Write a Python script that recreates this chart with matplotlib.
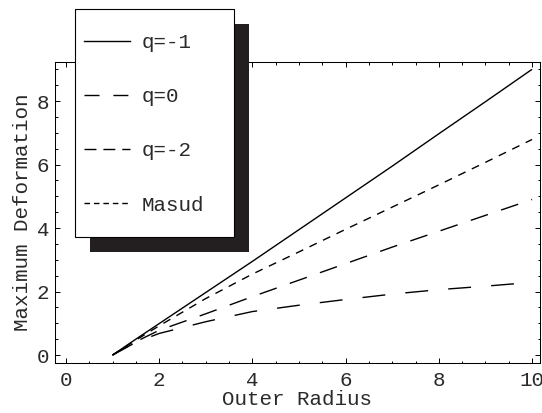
import numpy as np
import matplotlib
matplotlib.use('Agg')
import matplotlib.pyplot as plt
from matplotlib.lines import Line2D
from matplotlib.patches import Rectangle
from matplotlib.ticker import MultipleLocator

# ================
# Data
# ================

radius = [1, 1.5, 2, 3, 4, 5, 6, 7, 8, 9, 10]
deform_q_m1 = [0, 0.5, 0.99, 1.97, 2.95, 3.95, 4.95, 5.95, 6.97, 7.98, 9.0]
deform_masud = [0, 0.47, 0.92, 1.78, 2.55, 3.25, 3.96, 4.66, 5.36, 6.07, 6.79]
deform_q_m2 = [0, 0.42, 0.78, 1.3, 1.84, 2.36, 2.88, 3.4, 3.9, 4.4, 4.9]
deform_q_0 = [0, 0.4, 0.68, 1.05, 1.37, 1.57, 1.75, 1.92, 2.06, 2.17, 2.29]

labels = ['q=-1', 'q=0', 'q=-2', 'Masud']
xticks = [0, 2, 4, 6, 8, 10]
yticks = [0, 2, 4, 6, 8]

# ================
# Style
# ================

W, H = 542, 413
font = 'Liberation Mono'
fs = 15
txt = '#2a2a2a'

plt.rcParams['font.family'] = font
plt.rcParams['font.size'] = fs

fig = plt.figure(figsize=(W / 100, H / 100), dpi=100)
ax = fig.add_axes([54.7 / W, (H - 363) / H, (540 - 54.7) / W, (363 - 62) / H])

ax.plot(radius, deform_q_m1, color='k', lw=1.0, solid_capstyle='butt')
ax.plot(radius, deform_masud, color='k', lw=1.0, dashes=(5.8, 5.0))
ax.plot(radius, deform_q_m2, color='k', lw=1.0, dashes=(13, 10))
ax.plot(radius, deform_q_0, color='k', lw=1.0, dashes=(16.5, 14.5))

ax.set_xlim(-0.24, 10.17)
ax.set_ylim(-0.25, 9.23)
ax.set_xticks(xticks)
ax.set_yticks(yticks)
ax.xaxis.set_minor_locator(MultipleLocator(0.5))
ax.yaxis.set_minor_locator(MultipleLocator(0.5))
ax.tick_params(which='both', direction='in', top=True, right=True,
               width=0.7, colors='k', labelcolor=txt)
ax.tick_params(which='major', length=3.5)
ax.tick_params(which='minor', length=1.8)
ax.tick_params(axis='x', pad=6)
ax.tick_params(axis='y', pad=4)
for s in ax.spines.values():
    s.set_linewidth(0.75)

ax.set_xlabel('Outer Radius', color=txt, labelpad=0)
ax.set_ylabel('Maximum Deformation', color=txt, labelpad=3)

# legend box with its shadow
shadow = Rectangle((90 / W, (H - 252) / H), 159 / W, 228 / H,
                   transform=fig.transFigure, facecolor='#231f20',
                   edgecolor='none', zorder=3)
box = Rectangle((75 / W, (H - 237) / H), 159 / W, 228 / H,
                transform=fig.transFigure, facecolor='white',
                edgecolor='k', lw=0.8, zorder=4)
fig.patches.extend([shadow, box])

handles = [
    Line2D([], [], color='k', lw=1.0),
    Line2D([], [], color='k', lw=1.0, dashes=(10.8, 10)),
    Line2D([], [], color='k', lw=1.0, dashes=(8.6, 5)),
    Line2D([], [], color='k', lw=1.0, dashes=(4.0, 2.8)),
]
leg = fig.legend(handles, labels, loc='upper left',
                 bbox_to_anchor=(84 / W, (H - 33) / H),
                 frameon=False, borderpad=0, borderaxespad=0,
                 handlelength=46 / 20.8, handletextpad=12 / 20.8,
                 labelspacing=1.69, labelcolor=txt)
leg.set_zorder(5)

fig.savefig('out.png', dpi=100)
